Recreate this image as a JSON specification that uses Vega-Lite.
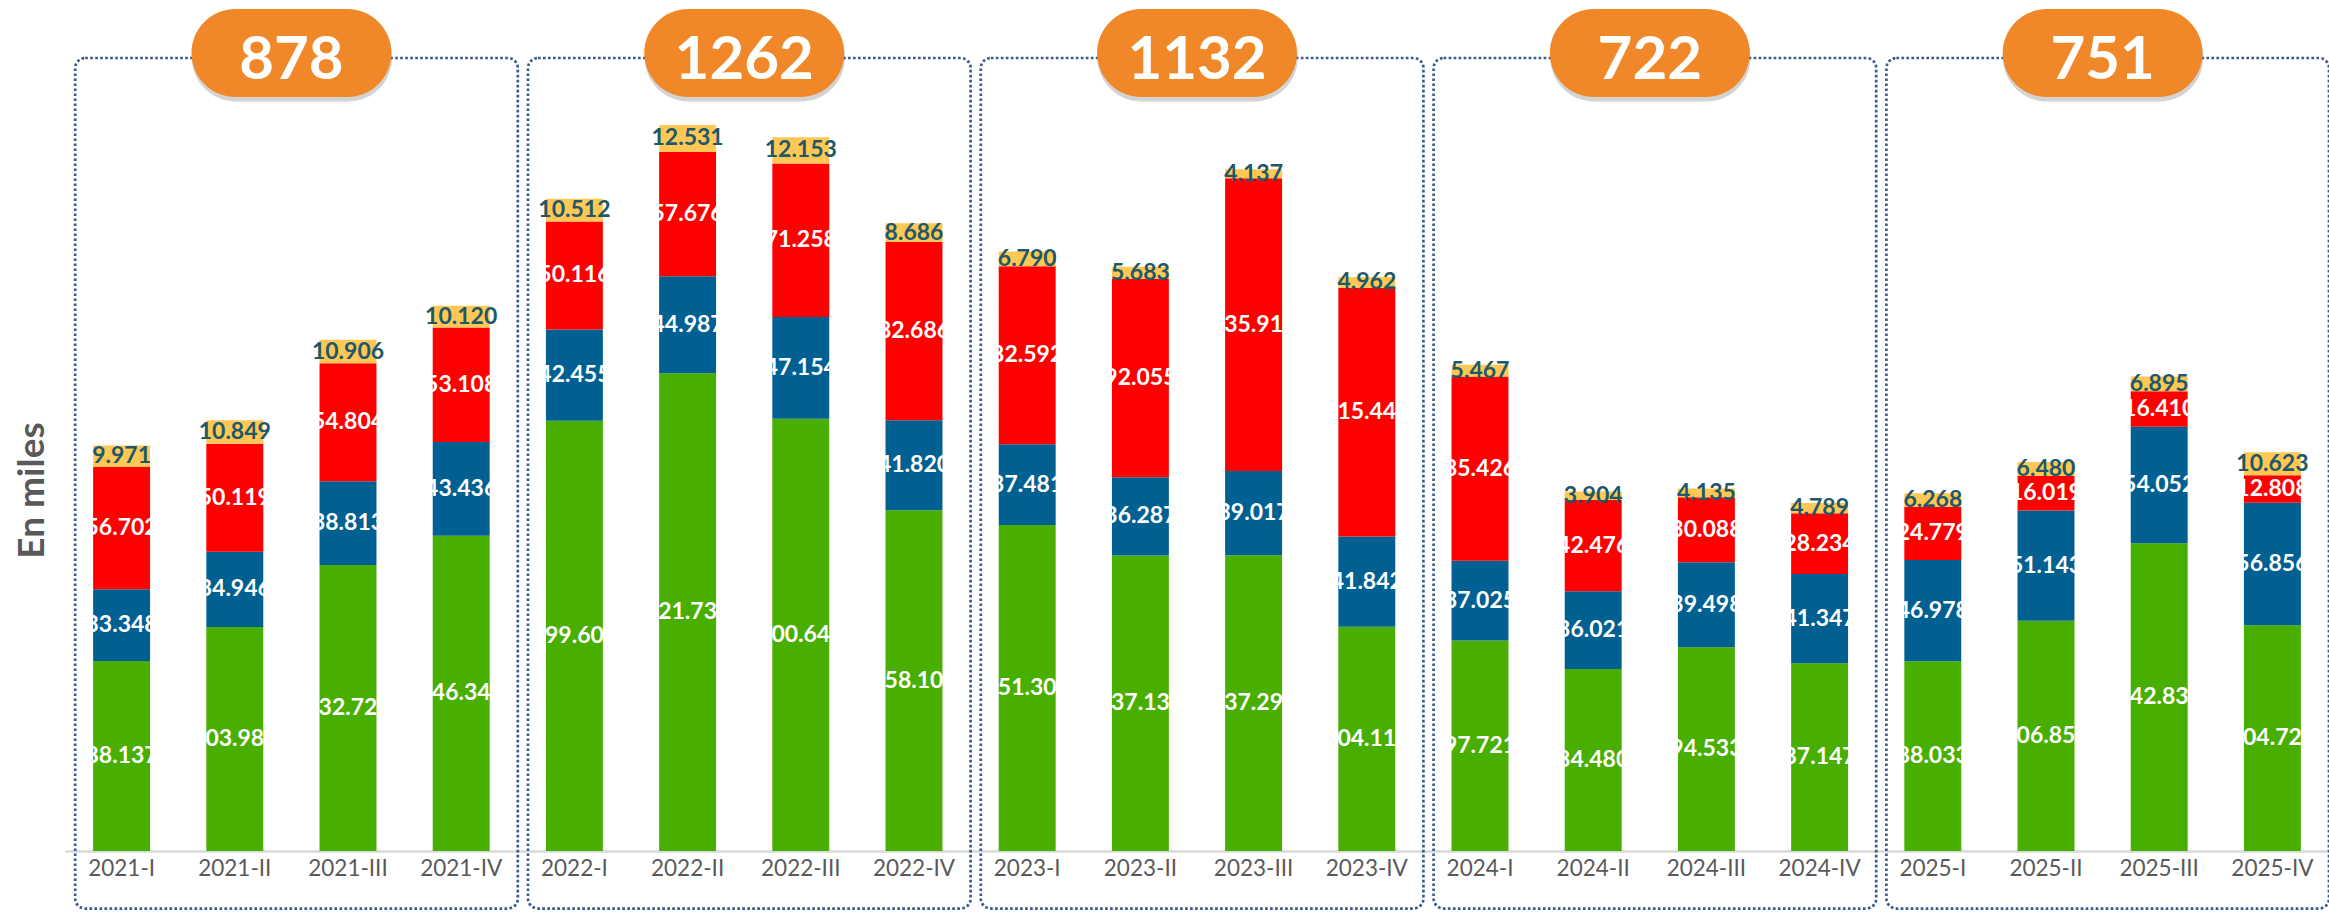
{
  "$schema": "https://vega.github.io/schema/vega-lite/v6.json",
  "width": 2264,
  "height": 793,
  "autosize": {"type": "none"},
  "padding": {"left": 65, "top": 58, "right": 0, "bottom": 62},
  "background": "white",
  "config": {
    "view": {"stroke": null},
    "font": "Lato",
    "axisX": {"domainColor": "#D9D9D9", "domainWidth": 2.5, "ticks": false, "grid": false, "labelFont": "Lato", "labelFontSize": 22.5, "labelColor": "#595959", "labelPadding": 6, "labelAngle": 0},
    "axisY": {"labels": false, "ticks": false, "domain": false, "grid": false, "titleFont": "Lato", "titleFontSize": 37, "titleFontWeight": "bold", "titleColor": "#595959", "titlePadding": 14, "titleY": 432}
  },
  "datasets": {
    "segments": [
      {"quarter": "2021-I", "serie": "S1", "value": 88.137}, {"quarter": "2021-I", "serie": "S2", "value": 33.348}, {"quarter": "2021-I", "serie": "S3", "value": 56.702}, {"quarter": "2021-I", "serie": "S4", "value": 9.971},
      {"quarter": "2021-II", "serie": "S1", "value": 103.981}, {"quarter": "2021-II", "serie": "S2", "value": 34.946}, {"quarter": "2021-II", "serie": "S3", "value": 50.119}, {"quarter": "2021-II", "serie": "S4", "value": 10.849},
      {"quarter": "2021-III", "serie": "S1", "value": 132.724}, {"quarter": "2021-III", "serie": "S2", "value": 38.813}, {"quarter": "2021-III", "serie": "S3", "value": 54.804}, {"quarter": "2021-III", "serie": "S4", "value": 10.906},
      {"quarter": "2021-IV", "serie": "S1", "value": 146.341}, {"quarter": "2021-IV", "serie": "S2", "value": 43.436}, {"quarter": "2021-IV", "serie": "S3", "value": 53.108}, {"quarter": "2021-IV", "serie": "S4", "value": 10.120},
      {"quarter": "2022-I", "serie": "S1", "value": 199.609}, {"quarter": "2022-I", "serie": "S2", "value": 42.455}, {"quarter": "2022-I", "serie": "S3", "value": 50.116}, {"quarter": "2022-I", "serie": "S4", "value": 10.512},
      {"quarter": "2022-II", "serie": "S1", "value": 221.735}, {"quarter": "2022-II", "serie": "S2", "value": 44.987}, {"quarter": "2022-II", "serie": "S3", "value": 57.676}, {"quarter": "2022-II", "serie": "S4", "value": 12.531},
      {"quarter": "2022-III", "serie": "S1", "value": 200.641}, {"quarter": "2022-III", "serie": "S2", "value": 47.154}, {"quarter": "2022-III", "serie": "S3", "value": 71.258}, {"quarter": "2022-III", "serie": "S4", "value": 12.153},
      {"quarter": "2022-IV", "serie": "S1", "value": 158.104}, {"quarter": "2022-IV", "serie": "S2", "value": 41.820}, {"quarter": "2022-IV", "serie": "S3", "value": 82.686}, {"quarter": "2022-IV", "serie": "S4", "value": 8.686},
      {"quarter": "2023-I", "serie": "S1", "value": 151.309}, {"quarter": "2023-I", "serie": "S2", "value": 37.481}, {"quarter": "2023-I", "serie": "S3", "value": 82.592}, {"quarter": "2023-I", "serie": "S4", "value": 6.790},
      {"quarter": "2023-II", "serie": "S1", "value": 137.134}, {"quarter": "2023-II", "serie": "S2", "value": 36.287}, {"quarter": "2023-II", "serie": "S3", "value": 92.055}, {"quarter": "2023-II", "serie": "S4", "value": 5.683},
      {"quarter": "2023-III", "serie": "S1", "value": 137.292}, {"quarter": "2023-III", "serie": "S2", "value": 39.017}, {"quarter": "2023-III", "serie": "S3", "value": 135.916}, {"quarter": "2023-III", "serie": "S4", "value": 4.137},
      {"quarter": "2023-IV", "serie": "S1", "value": 104.110}, {"quarter": "2023-IV", "serie": "S2", "value": 41.842}, {"quarter": "2023-IV", "serie": "S3", "value": 115.449}, {"quarter": "2023-IV", "serie": "S4", "value": 4.962},
      {"quarter": "2024-I", "serie": "S1", "value": 97.721}, {"quarter": "2024-I", "serie": "S2", "value": 37.025}, {"quarter": "2024-I", "serie": "S3", "value": 85.426}, {"quarter": "2024-I", "serie": "S4", "value": 5.467},
      {"quarter": "2024-II", "serie": "S1", "value": 84.480}, {"quarter": "2024-II", "serie": "S2", "value": 36.021}, {"quarter": "2024-II", "serie": "S3", "value": 42.476}, {"quarter": "2024-II", "serie": "S4", "value": 3.904},
      {"quarter": "2024-III", "serie": "S1", "value": 94.533}, {"quarter": "2024-III", "serie": "S2", "value": 39.498}, {"quarter": "2024-III", "serie": "S3", "value": 30.088}, {"quarter": "2024-III", "serie": "S4", "value": 4.135},
      {"quarter": "2024-IV", "serie": "S1", "value": 87.147}, {"quarter": "2024-IV", "serie": "S2", "value": 41.347}, {"quarter": "2024-IV", "serie": "S3", "value": 28.234}, {"quarter": "2024-IV", "serie": "S4", "value": 4.789},
      {"quarter": "2025-I", "serie": "S1", "value": 88.033}, {"quarter": "2025-I", "serie": "S2", "value": 46.978}, {"quarter": "2025-I", "serie": "S3", "value": 24.779}, {"quarter": "2025-I", "serie": "S4", "value": 6.268},
      {"quarter": "2025-II", "serie": "S1", "value": 106.853}, {"quarter": "2025-II", "serie": "S2", "value": 51.143}, {"quarter": "2025-II", "serie": "S3", "value": 16.019}, {"quarter": "2025-II", "serie": "S4", "value": 6.480},
      {"quarter": "2025-III", "serie": "S1", "value": 142.839}, {"quarter": "2025-III", "serie": "S2", "value": 54.052}, {"quarter": "2025-III", "serie": "S3", "value": 16.410}, {"quarter": "2025-III", "serie": "S4", "value": 6.895},
      {"quarter": "2025-IV", "serie": "S1", "value": 104.724}, {"quarter": "2025-IV", "serie": "S2", "value": 56.856}, {"quarter": "2025-IV", "serie": "S3", "value": 12.808}, {"quarter": "2025-IV", "serie": "S4", "value": 10.623}
    ],
    "years": [
      {"year": "2021", "q1": "2021-I", "q2": "2021-II", "q3": "2021-III", "q4": "2021-IV", "total": 878},
      {"year": "2022", "q1": "2022-I", "q2": "2022-II", "q3": "2022-III", "q4": "2022-IV", "total": 1262},
      {"year": "2023", "q1": "2023-I", "q2": "2023-II", "q3": "2023-III", "q4": "2023-IV", "total": 1132},
      {"year": "2024", "q1": "2024-I", "q2": "2024-II", "q3": "2024-III", "q4": "2024-IV", "total": 722},
      {"year": "2025", "q1": "2025-I", "q2": "2025-II", "q3": "2025-III", "q4": "2025-IV", "total": 751}
    ]
  },
  "layer": [
    {
      "data": {"name": "segments"},
      "transform": [
        {"stack": "value", "groupby": ["quarter"], "sort": [{"field": "serie", "order": "ascending"}], "as": ["v0", "v1"]}
      ],
      "mark": {"type": "bar", "width": {"band": 0.503}},
      "encoding": {
        "x": {"field": "quarter", "type": "nominal", "scale": {"type": "band", "paddingInner": 0, "paddingOuter": 0}, "axis": {"title": null}},
        "y": {"field": "v0", "type": "quantitative", "scale": {"domain": [0, 368], "nice": false}, "axis": {"title": "En miles"}},
        "y2": {"field": "v1"},
        "color": {"field": "serie", "type": "nominal", "scale": {"domain": ["S1", "S2", "S3", "S4"], "range": ["#48AE00", "#006092", "#FF0000", "#FFC756"]}, "legend": null}
      }
    },
    {
      "data": {"name": "years"},
      "mark": {"type": "rect", "filled": false, "stroke": "#3B5B8E", "strokeWidth": 2.7, "strokeDash": [2.7, 2.3], "cornerRadius": 10},
      "encoding": {
        "x": {"field": "q1", "type": "nominal", "bandPosition": 0.09},
        "x2": {"field": "q4", "bandPosition": 1},
        "y": {"datum": -26.7, "type": "quantitative"},
        "y2": {"datum": 368}
      }
    },
    {
      "data": {"name": "segments"},
      "transform": [
        {"stack": "value", "groupby": ["quarter"], "sort": [{"field": "serie", "order": "ascending"}], "as": ["v0", "v1"]},
        {"calculate": "(datum.v0 + datum.v1) / 2", "as": "mid"}
      ],
      "mark": {"type": "text", "font": "Lato", "fontSize": 23, "fontWeight": "bold", "baseline": "middle", "align": "center"},
      "encoding": {
        "x": {"field": "quarter", "type": "nominal"},
        "y": {"field": "mid", "type": "quantitative"},
        "text": {"field": "value", "type": "quantitative", "format": ".3f"},
        "color": {"condition": {"test": "datum.serie === 'S4'", "value": "#215868"}, "value": "white"}
      }
    },
    {
      "data": {"name": "years"},
      "mark": {"type": "rect", "fill": "#6E6E6E", "opacity": 0.3, "cornerRadius": 44},
      "encoding": {
        "x": {"field": "q2", "type": "nominal", "bandPosition": 0.12},
        "x2": {"field": "q3", "bandPosition": 0.89},
        "y": {"datum": 347.8, "type": "quantitative"},
        "y2": {"datum": 389.0}
      }
    },
    {
      "data": {"name": "years"},
      "mark": {"type": "rect", "fill": "#F0882A", "cornerRadius": 44},
      "encoding": {
        "x": {"field": "q2", "type": "nominal", "bandPosition": 0.117},
        "x2": {"field": "q3", "bandPosition": 0.883},
        "y": {"datum": 349.9, "type": "quantitative"},
        "y2": {"datum": 390.7}
      }
    },
    {
      "data": {"name": "years"},
      "mark": {"type": "text", "font": "Lato", "fontSize": 60, "fontWeight": "bold", "color": "white", "baseline": "middle", "align": "center"},
      "encoding": {
        "x": {"field": "q2", "type": "nominal", "bandPosition": 1},
        "y": {"datum": 366.5, "type": "quantitative"},
        "text": {"field": "total", "type": "quantitative", "format": "d"}
      }
    }
  ]
}
